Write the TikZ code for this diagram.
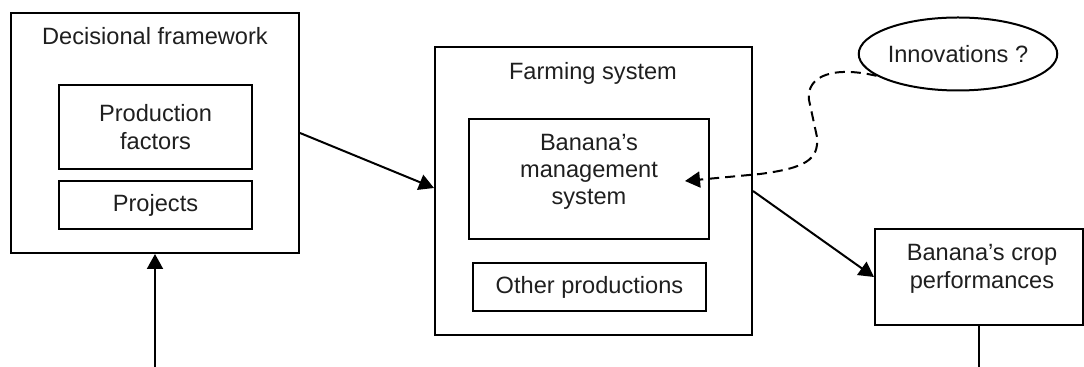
\documentclass[tikz,border=0pt]{standalone}
\usepackage{fontspec}
\setmainfont{Liberation Sans}
\usetikzlibrary{arrows.meta,shapes.geometric,calc}
\begin{document}
\begin{tikzpicture}[x=0.5pt,y=-0.5pt,
  txt/.style={font=\fontsize{11.8}{14}\selectfont, text=black!88},
  frame/.style={draw,line width=1pt,inner sep=0pt,align=center,txt},
  lbl/.style={inner sep=0pt,align=center,txt},
  conn/.style={line width=1pt,-{Triangle[length=7.5pt,width=8pt]}},
  plain/.style={line width=1pt},
  dashline/.style={line width=1pt,dash pattern=on 5pt off 3pt,-{Triangle[length=7.5pt,width=8pt]}}]
\useasboundingbox (0,0) rectangle (1084,367);
% Decisional framework
\node[frame,minimum width=144pt,minimum height=120pt] (dec) at (155,133) {};
\node[lbl,anchor=base] (dectitle) at (155,45) {Decisional framework};
\node[frame,minimum width=96.5pt,minimum height=42pt] (prod) at (155.5,127) {Production\\factors};
\node[frame,minimum width=96.5pt,minimum height=24pt] (proj) at (155.5,205) {Projects};
% Farming system
\node[frame,minimum width=158.5pt,minimum height=144pt] (farm) at (593.5,191) {};
\node[lbl,anchor=base] (farmtitle) at (593,80) {Farming system};
\node[frame,minimum width=120pt,minimum height=60pt] (mgmt) at (589,179) {};
\node[lbl,text width=110pt] (mgmttext) at (589,172) {Banana’s\\[-0.5pt]management\\[-0.5pt]system};
\node[frame,minimum width=116.5pt,minimum height=24pt] (other) at (589.5,287) {Other productions};
% Innovations
\node[draw,line width=1pt,ellipse,inner sep=0pt,minimum width=97pt,minimum height=36.5pt,txt] (innov) at (958,54) {Innovations ?};
% Crop performances
\node[frame,minimum width=104pt,minimum height=48pt] (crop) at (979,277) {};
\node[lbl] (croptext) at (982,269) {Banana’s crop\\performances};
% connectors
\coordinate (decin) at (155,367);
\draw[conn] (decin) -- (dec.south);
\draw[conn] (dec.east) -- ($(farm.west)+(0,-3)$);
\draw[conn] (farm.east) -- (crop.west);
\coordinate (cropout) at (crop.south |- decin);
\draw[plain] (crop.south) -- (cropout);
\coordinate (innovtip) at (685,181);
\draw[dashline] (innov.195) .. controls (835,66) and (806,75) .. (809,100) -- (817,137) .. controls (819,160) and (805,168) .. (760,174) -- (innovtip);
\end{tikzpicture}
\end{document}
